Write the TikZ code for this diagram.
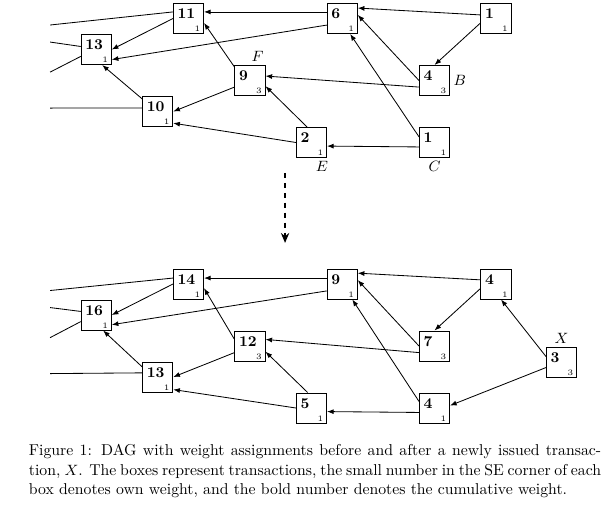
\documentclass[tikz,border=0pt]{standalone}
\usetikzlibrary{arrows.meta}

\begin{document}
\begin{tikzpicture}[
  x=18.54pt, y=-18.69pt,
  tx/.style 2 args={draw, line width=0.5pt, minimum size=18.2pt, inner sep=0pt,
    label={[cum]above left:#1}, label={[own]below right:#2}},
  cum/.style={anchor=north west, font=\small\bfseries, inner xsep=2.6pt, inner ysep=3.4pt},
  own/.style={anchor=south east, font=\tiny, inner xsep=2pt, inner ysep=1.2pt},
  lbl/.style={font=\small, inner sep=2pt},
  arr/.style={-{Latex[length=4pt,width=3pt]}, line width=0.5pt},
  tail/.style={line width=0.5pt},
  stepdown/.style={-{Stealth[length=6pt,width=5pt]}, line width=1.6pt,
    dash pattern=on 3pt off 3pt},
  captext/.style={text width=345pt, align=justify, font=\fontsize{9.5pt}{11.8pt}\selectfont,
    inner sep=0pt, anchor=base west},
]
\useasboundingbox (-0.13,-0.597) rectangle (19.805,16.113);

% before X is issued
\node[tx={11}{1}] (t11) at (6,0) {};
\node[tx={6}{1}]  (t6)  at (11,0) {};
\node[tx={1}{1}]  (t1a) at (16,0) {};
\node[tx={13}{1}] (t13) at (3,1) {};
\node[tx={9}{3}, label={[lbl,xshift=4.5pt]above:$F$}] (t9) at (8,2) {};
\node[tx={4}{3}, label={[lbl]right:$B$}] (t4) at (14,2) {};
\node[tx={10}{1}] (t10) at (5,3) {};
\node[tx={2}{1}, label={[lbl,xshift=6.3pt]below:$E$}] (t2) at (10,4) {};
\node[tx={1}{1}, label={[lbl]below:$C$}] (t1c) at (14,4) {};

\coordinate (lt1) at (1.5,0.21);
\coordinate (lt2) at (1.5,0.76);
\coordinate (lt3) at (1.5,1.73);
\coordinate (lt4) at (1.5,2.89);

\draw[tail] (t11.157) -- (lt1);
\draw[tail] (t13.169) -- (lt2);
\draw[tail] (t13.204) -- (lt3);
\draw[tail] (t10.167) -- (lt4);

\draw[arr] (t6.157)  -- (t11.23);
\draw[arr] (t6.203)  -- (t13.327);
\draw[arr] (t11.west) -- (t13.east);
\draw[arr] (t9.139)  -- (t11.344);
\draw[arr] (t9.203)  -- (t10.east);
\draw[arr] (t10.141) -- (t13.291);
\draw[arr] (t2.west) -- (t10.323);
\draw[arr] (t2.106)  -- (t9.340);
\draw[arr] (t4.203)  -- (t9.16);
\draw[arr] (t1c.196) -- (t2.347);
\draw[arr] (t1a.167) -- (t6.34);
\draw[arr] (t1a.196) -- (t4.north);
\draw[arr] (t4.west) -- (t6.13);
\draw[arr] (t1c.160) -- (t6.297);

% step
\coordinate (down0) at (9.14,4.98);
\coordinate (down1) at (9.14,7.24);
\draw[stepdown] (down0) -- (down1);

% after X is issued
\node[tx={14}{1}] (b14) at (6,8.565) {};
\node[tx={9}{1}]  (b9)  at (11,8.565) {};
\node[tx={4}{1}]  (b4a) at (16,8.565) {};
\node[tx={16}{1}] (b16) at (3,9.565) {};
\node[tx={12}{3}] (b12) at (8,10.565) {};
\node[tx={7}{3}]  (b7)  at (14,10.565) {};
\node[tx={3}{3}, label={[lbl]above:$X$}] (bX) at (18.13,11.097) {};
\node[tx={13}{1}] (b13) at (5,11.565) {};
\node[tx={5}{1}]  (b5)  at (10,12.565) {};
\node[tx={4}{1}]  (b4b) at (14,12.565) {};

\coordinate (lb1) at (1.5,8.775);
\coordinate (lb2) at (1.5,9.325);
\coordinate (lb3) at (1.5,10.295);
\coordinate (lb4) at (1.5,11.455);

\draw[tail] (b14.159) -- (lb1);
\draw[tail] (b16.167) -- (lb2);
\draw[tail] (b16.203) -- (lb3);
\draw[tail] (b13.165) -- (lb4);

\draw[arr] (b9.159)  -- (b14.21);
\draw[arr] (b9.204)  -- (b16.328);
\draw[arr] (b14.west) -- (b16.east);
\draw[arr] (b12.157) -- (b14.345);
\draw[arr] (b12.203) -- (b13.east);
\draw[arr] (b13.147) -- (b16.294);
\draw[arr] (b5.west) -- (b13.321);
\draw[arr] (b5.104)  -- (b12.340);
\draw[arr] (b7.203)  -- (b12.23);
\draw[arr] (b4b.196) -- (b5.347);
\draw[arr] (b4a.165) -- (b9.35);
\draw[arr] (b4a.196) -- (b7.north);
\draw[arr] (b7.west) -- (b9.14);
\draw[arr] (b4b.157) -- (b9.303);
\draw[arr] (bX.159)  -- (b4a.288);
\draw[arr] (bX.198)  -- (b4b.9);

\node[captext] (caption) at (0.8,14.1) {Figure 1: DAG with weight assignments before and after a newly issued transac-\linebreak tion, $X$. The boxes represent transactions, the small number in the SE corner of each\linebreak box denotes own weight, and the bold number denotes the cumulative weight.};
\end{tikzpicture}
\end{document}
